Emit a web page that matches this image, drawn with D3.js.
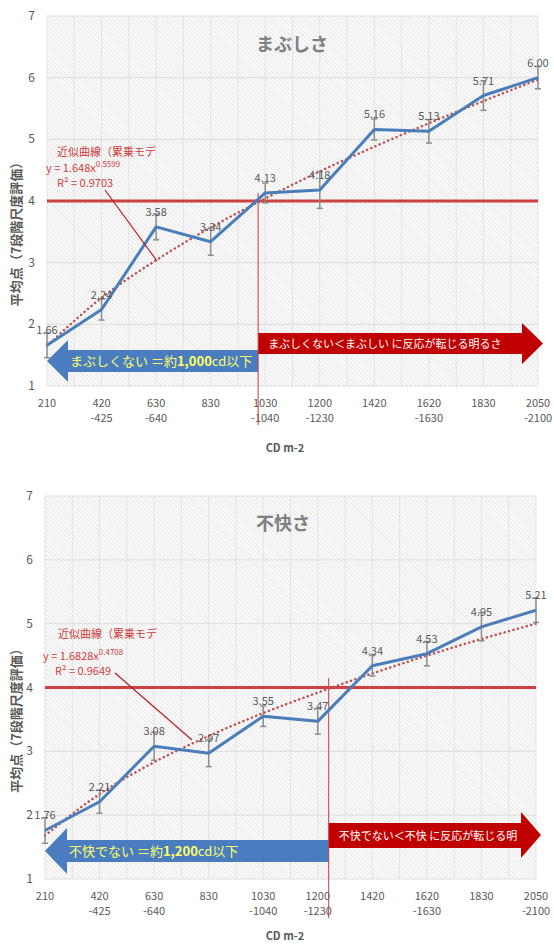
<!DOCTYPE html>
<meta charset="utf-8">
<style>
  body { margin: 0; background: #fff; font-family: "Noto Sans CJK JP", "Noto Sans", sans-serif; }
  .tick-y { fill: #595959; font-size: 12px; }
  .tick-x { fill: #595959; font-size: 11px; }
  .val { fill: #595959; font-size: 11px; }
  .fit-text { fill: #d03c3c; font-size: 11px; }
</style>
<body>
<script src="https://cdn.jsdelivr.net/npm/d3@7"></script>
<script>
  // categories (two-line labels)
  var catLine1 = ["210", "420", "630", "830", "1030", "1200", "1420", "1620", "1830", "2050"];
  var catLine2 = ["", "-425", "-640", "", "-1040", "-1230", "", "-1630", "", "-2100"];
  var yTicks = [1, 2, 3, 4, 5, 6, 7];

  // まぶしさ
  var glareMean = [1.66, 2.24, 3.58, 3.34, 4.13, 4.18, 5.16, 5.13, 5.71, 6.00];
  var glareErr = [0.2, 0.17, 0.21, 0.22, 0.16, 0.3, 0.17, 0.19, 0.24, 0.18];
  var glareFit = [1.65, 2.43, 3.04, 3.57, 4.04, 4.48, 4.88, 5.26, 5.62, 5.97];
  var glareCross = 3.87;

  // 不快さ
  var discMean = [1.76, 2.21, 3.08, 2.97, 3.55, 3.47, 4.34, 4.53, 4.95, 5.21];
  var discErr = [0.2, 0.18, 0.22, 0.21, 0.16, 0.2, 0.16, 0.19, 0.22, 0.19];
  var discFit = [1.68, 2.33, 2.83, 3.24, 3.60, 3.92, 4.22, 4.50, 4.76, 5.00];
  var discCross = 5.2;

  var svg = d3.select("body").append("svg")
      .attr("width", 554)
      .attr("height", 944);

  var defs = svg.append("defs");
  var pat = defs.append("pattern")
      .attr("id", "hatch")
      .attr("patternUnits", "userSpaceOnUse")
      .attr("width", 3)
      .attr("height", 3)
      .attr("patternTransform", "rotate(-45)");
  pat.append("rect").attr("width", 3).attr("height", 3).attr("fill", "#fbfbfb");
  pat.append("line")
      .attr("x1", 0).attr("y1", 0).attr("x2", 0).attr("y2", 3)
      .attr("stroke", "#d2d2d2").attr("stroke-width", 1);

  drawChart({
    top: 16, bottom: 386, left: 47, right: 538,
    title: "まぶしさ", titleX: 256, titleY: 51,
    mean: glareMean, err: glareErr, fit: glareFit, cross: glareCross, crossTop: 193,
    fitLines: ["近似曲線（累乗モデ", "y = 1.648x", "0.5599", "R² = 0.9703"],
    fitPos: [[57, 156], [46, 172], [57, 187]],
    leader: [[105, 190], [157, 261]],
    blue: {y0: 350, y1: 372, h0: 340, h1: 382, headW: 21, text1: "まぶしくない ＝約", bold: "1,000", text2: "cd以下"},
    red: {y0: 333, y1: 354, h0: 323, h1: 364, tip: 543, headW: 21, text: "まぶしくない＜まぶしい に反応が転じる明るさ"},
    xTitleY: 452
  });

  drawChart({
    top: 496, bottom: 879, left: 45, right: 536,
    title: "不快さ", titleX: 256, titleY: 530,
    mean: discMean, err: discErr, fit: discFit, cross: discCross, crossTop: 678,
    fitLines: ["近似曲線（累乗モデ", "y = 1.6828x", "0.4708", "R² = 0.9649"],
    fitPos: [[58, 638], [43, 660], [55, 675]],
    leader: [[115, 673], [192, 740]],
    blue: {y0: 840, y1: 862, h0: 828, h1: 874, headW: 22, text1: "不快でない ＝約", bold: "1,200", text2: "cd以下"},
    red: {y0: 823, y1: 848, h0: 812, h1: 858, tip: 541, headW: 20, text: "不快でない＜不快 に反応が転じる明"},
    xTitleY: 940
  });

  function drawChart(c) {
    var x = d3.scaleLinear().domain([0, 9]).range([c.left, c.right]);
    var y = d3.scaleLinear().domain([1, 7]).range([c.bottom, c.top]);
    var g = svg.append("g");

    // plot background
    g.append("rect")
        .attr("x", c.left).attr("y", c.top)
        .attr("width", c.right - c.left).attr("height", c.bottom - c.top)
        .attr("fill", "url(#hatch)");

    // vertical grid (half categories)
    g.selectAll(".vgrid").data(d3.range(0, 9.01, 0.5)).enter().append("line")
        .attr("x1", x).attr("x2", x)
        .attr("y1", c.top).attr("y2", c.bottom)
        .attr("stroke", "#e3e3e3").attr("stroke-width", 1);

    // horizontal grid
    g.selectAll(".hgrid").data(yTicks).enter().append("line")
        .attr("x1", c.left).attr("x2", c.right)
        .attr("y1", y).attr("y2", y)
        .attr("stroke", "#dddddd").attr("stroke-width", 1);

    // y tick labels
    g.selectAll(".ty").data(yTicks).enter().append("text")
        .attr("class", "tick-y")
        .attr("x", c.left - 12).attr("y", function(d) { return y(d) + 4; })
        .attr("text-anchor", "end")
        .text(function(d) { return d; });

    // x tick labels
    g.selectAll(".tx1").data(catLine1).enter().append("text")
        .attr("class", "tick-x")
        .attr("x", function(d, i) { return x(i); }).attr("y", c.bottom + 21)
        .attr("text-anchor", "middle")
        .text(function(d) { return d; });
    g.selectAll(".tx2").data(catLine2).enter().append("text")
        .attr("class", "tick-x")
        .attr("x", function(d, i) { return x(i); }).attr("y", c.bottom + 36)
        .attr("text-anchor", "middle")
        .text(function(d) { return d; });

    // axis titles
    g.append("text")
        .attr("transform", "translate(21," + ((c.top + c.bottom) / 2 + 30) + ") rotate(-90)")
        .attr("text-anchor", "middle")
        .attr("fill", "#595959").attr("font-size", "13px").attr("font-weight", "bold")
        .text("平均点（7段階尺度評価）");
    g.append("text")
        .attr("x", 285).attr("y", c.xTitleY)
        .attr("text-anchor", "middle")
        .attr("fill", "#595959").attr("font-size", "11px").attr("font-weight", "bold")
        .text("CD m-2");

    // title
    g.append("text")
        .attr("x", c.titleX).attr("y", c.titleY)
        .attr("fill", "#7f7f7f").attr("font-size", "18px").attr("font-weight", "bold")
        .text(c.title);

    // threshold line at 4
    g.append("line")
        .attr("x1", c.left).attr("x2", c.right)
        .attr("y1", y(4)).attr("y2", y(4))
        .attr("stroke", "#cc4040").attr("stroke-width", 3);

    // arrows
    var b = c.blue, xc = x(c.cross);
    g.append("path")
        .attr("d", "M" + c.left + "," + ((b.h0 + b.h1) / 2) +
            "L" + (c.left + b.headW) + "," + b.h0 +
            "L" + (c.left + b.headW) + "," + b.y0 +
            "L" + xc + "," + b.y0 +
            "L" + xc + "," + b.y1 +
            "L" + (c.left + b.headW) + "," + b.y1 +
            "L" + (c.left + b.headW) + "," + b.h1 + "Z")
        .attr("fill", "#4a7dc0");
    var bt = g.append("text")
        .attr("x", c.left + b.headW + 2).attr("y", (b.y0 + b.y1) / 2 + 5)
        .attr("fill", "#ffff66").attr("font-size", "13px");
    bt.append("tspan").text(b.text1);
    bt.append("tspan").attr("font-weight", "bold").text(b.bold);
    bt.append("tspan").text(b.text2);

    var r = c.red, hb = r.tip - r.headW;
    g.append("path")
        .attr("d", "M" + xc + "," + r.y0 +
            "L" + hb + "," + r.y0 +
            "L" + hb + "," + r.h0 +
            "L" + r.tip + "," + ((r.h0 + r.h1) / 2) +
            "L" + hb + "," + r.h1 +
            "L" + hb + "," + r.y1 +
            "L" + xc + "," + r.y1 + "Z")
        .attr("fill", "#c00000");
    g.append("text")
        .attr("x", xc + 10).attr("y", (r.y0 + r.y1) / 2 + 4)
        .attr("fill", "#ffffff").attr("font-size", "11px")
        .text(r.text);

    // vertical crossing line
    g.append("line")
        .attr("x1", xc).attr("x2", xc)
        .attr("y1", c.crossTop).attr("y2", c.bottom + 39)
        .attr("stroke", "#c83c3c").attr("stroke-width", 1);

    // fitted curve
    var line = d3.line()
        .x(function(d, i) { return x(i); })
        .y(function(d) { return y(d); })
        .curve(d3.curveMonotoneX);
    g.append("path")
        .datum(c.fit)
        .attr("d", line)
        .attr("fill", "none")
        .attr("stroke", "#c0504d").attr("stroke-width", 2.5)
        .attr("stroke-dasharray", "0.1,4.5").attr("stroke-linecap", "round");

    // error bars
    var eb = g.selectAll(".err").data(c.mean).enter().append("g")
        .attr("stroke", "#8c8c8c").attr("stroke-width", 1.5);
    eb.append("line")
        .attr("x1", function(d, i) { return x(i); }).attr("x2", function(d, i) { return x(i); })
        .attr("y1", function(d, i) { return y(d + c.err[i]); })
        .attr("y2", function(d, i) { return y(d - c.err[i]); });
    eb.append("line")
        .attr("x1", function(d, i) { return x(i) - 3; }).attr("x2", function(d, i) { return x(i) + 3; })
        .attr("y1", function(d, i) { return y(d + c.err[i]); })
        .attr("y2", function(d, i) { return y(d + c.err[i]); });
    eb.append("line")
        .attr("x1", function(d, i) { return x(i) - 3; }).attr("x2", function(d, i) { return x(i) + 3; })
        .attr("y1", function(d, i) { return y(d - c.err[i]); })
        .attr("y2", function(d, i) { return y(d - c.err[i]); });

    // mean line
    g.append("path")
        .datum(c.mean)
        .attr("d", d3.line().x(function(d, i) { return x(i); }).y(function(d) { return y(d); }))
        .attr("fill", "none")
        .attr("stroke", "#4a7ebb").attr("stroke-width", 3)
        .attr("stroke-linejoin", "round");

    // value labels
    g.selectAll(".val").data(c.mean).enter().append("text")
        .attr("class", "val")
        .attr("x", function(d, i) { return x(i); })
        .attr("y", function(d) { return y(d) - 11; })
        .attr("text-anchor", "middle")
        .text(function(d) { return d.toFixed(2); });

    // fit annotation
    g.append("line")
        .attr("x1", c.leader[0][0]).attr("y1", c.leader[0][1])
        .attr("x2", c.leader[1][0]).attr("y2", c.leader[1][1])
        .attr("stroke", "#b22222").attr("stroke-width", 1.2);
    g.append("text").attr("class", "fit-text")
        .attr("x", c.fitPos[0][0]).attr("y", c.fitPos[0][1])
        .text(c.fitLines[0]);
    var eq = g.append("text").attr("class", "fit-text")
        .attr("x", c.fitPos[1][0]).attr("y", c.fitPos[1][1]);
    eq.append("tspan").text(c.fitLines[1]);
    eq.append("tspan").attr("font-size", "8px").attr("dy", -5).text(c.fitLines[2]);
    g.append("text").attr("class", "fit-text")
        .attr("x", c.fitPos[2][0]).attr("y", c.fitPos[2][1])
        .text(c.fitLines[3]);
  }
</script>
</body>
